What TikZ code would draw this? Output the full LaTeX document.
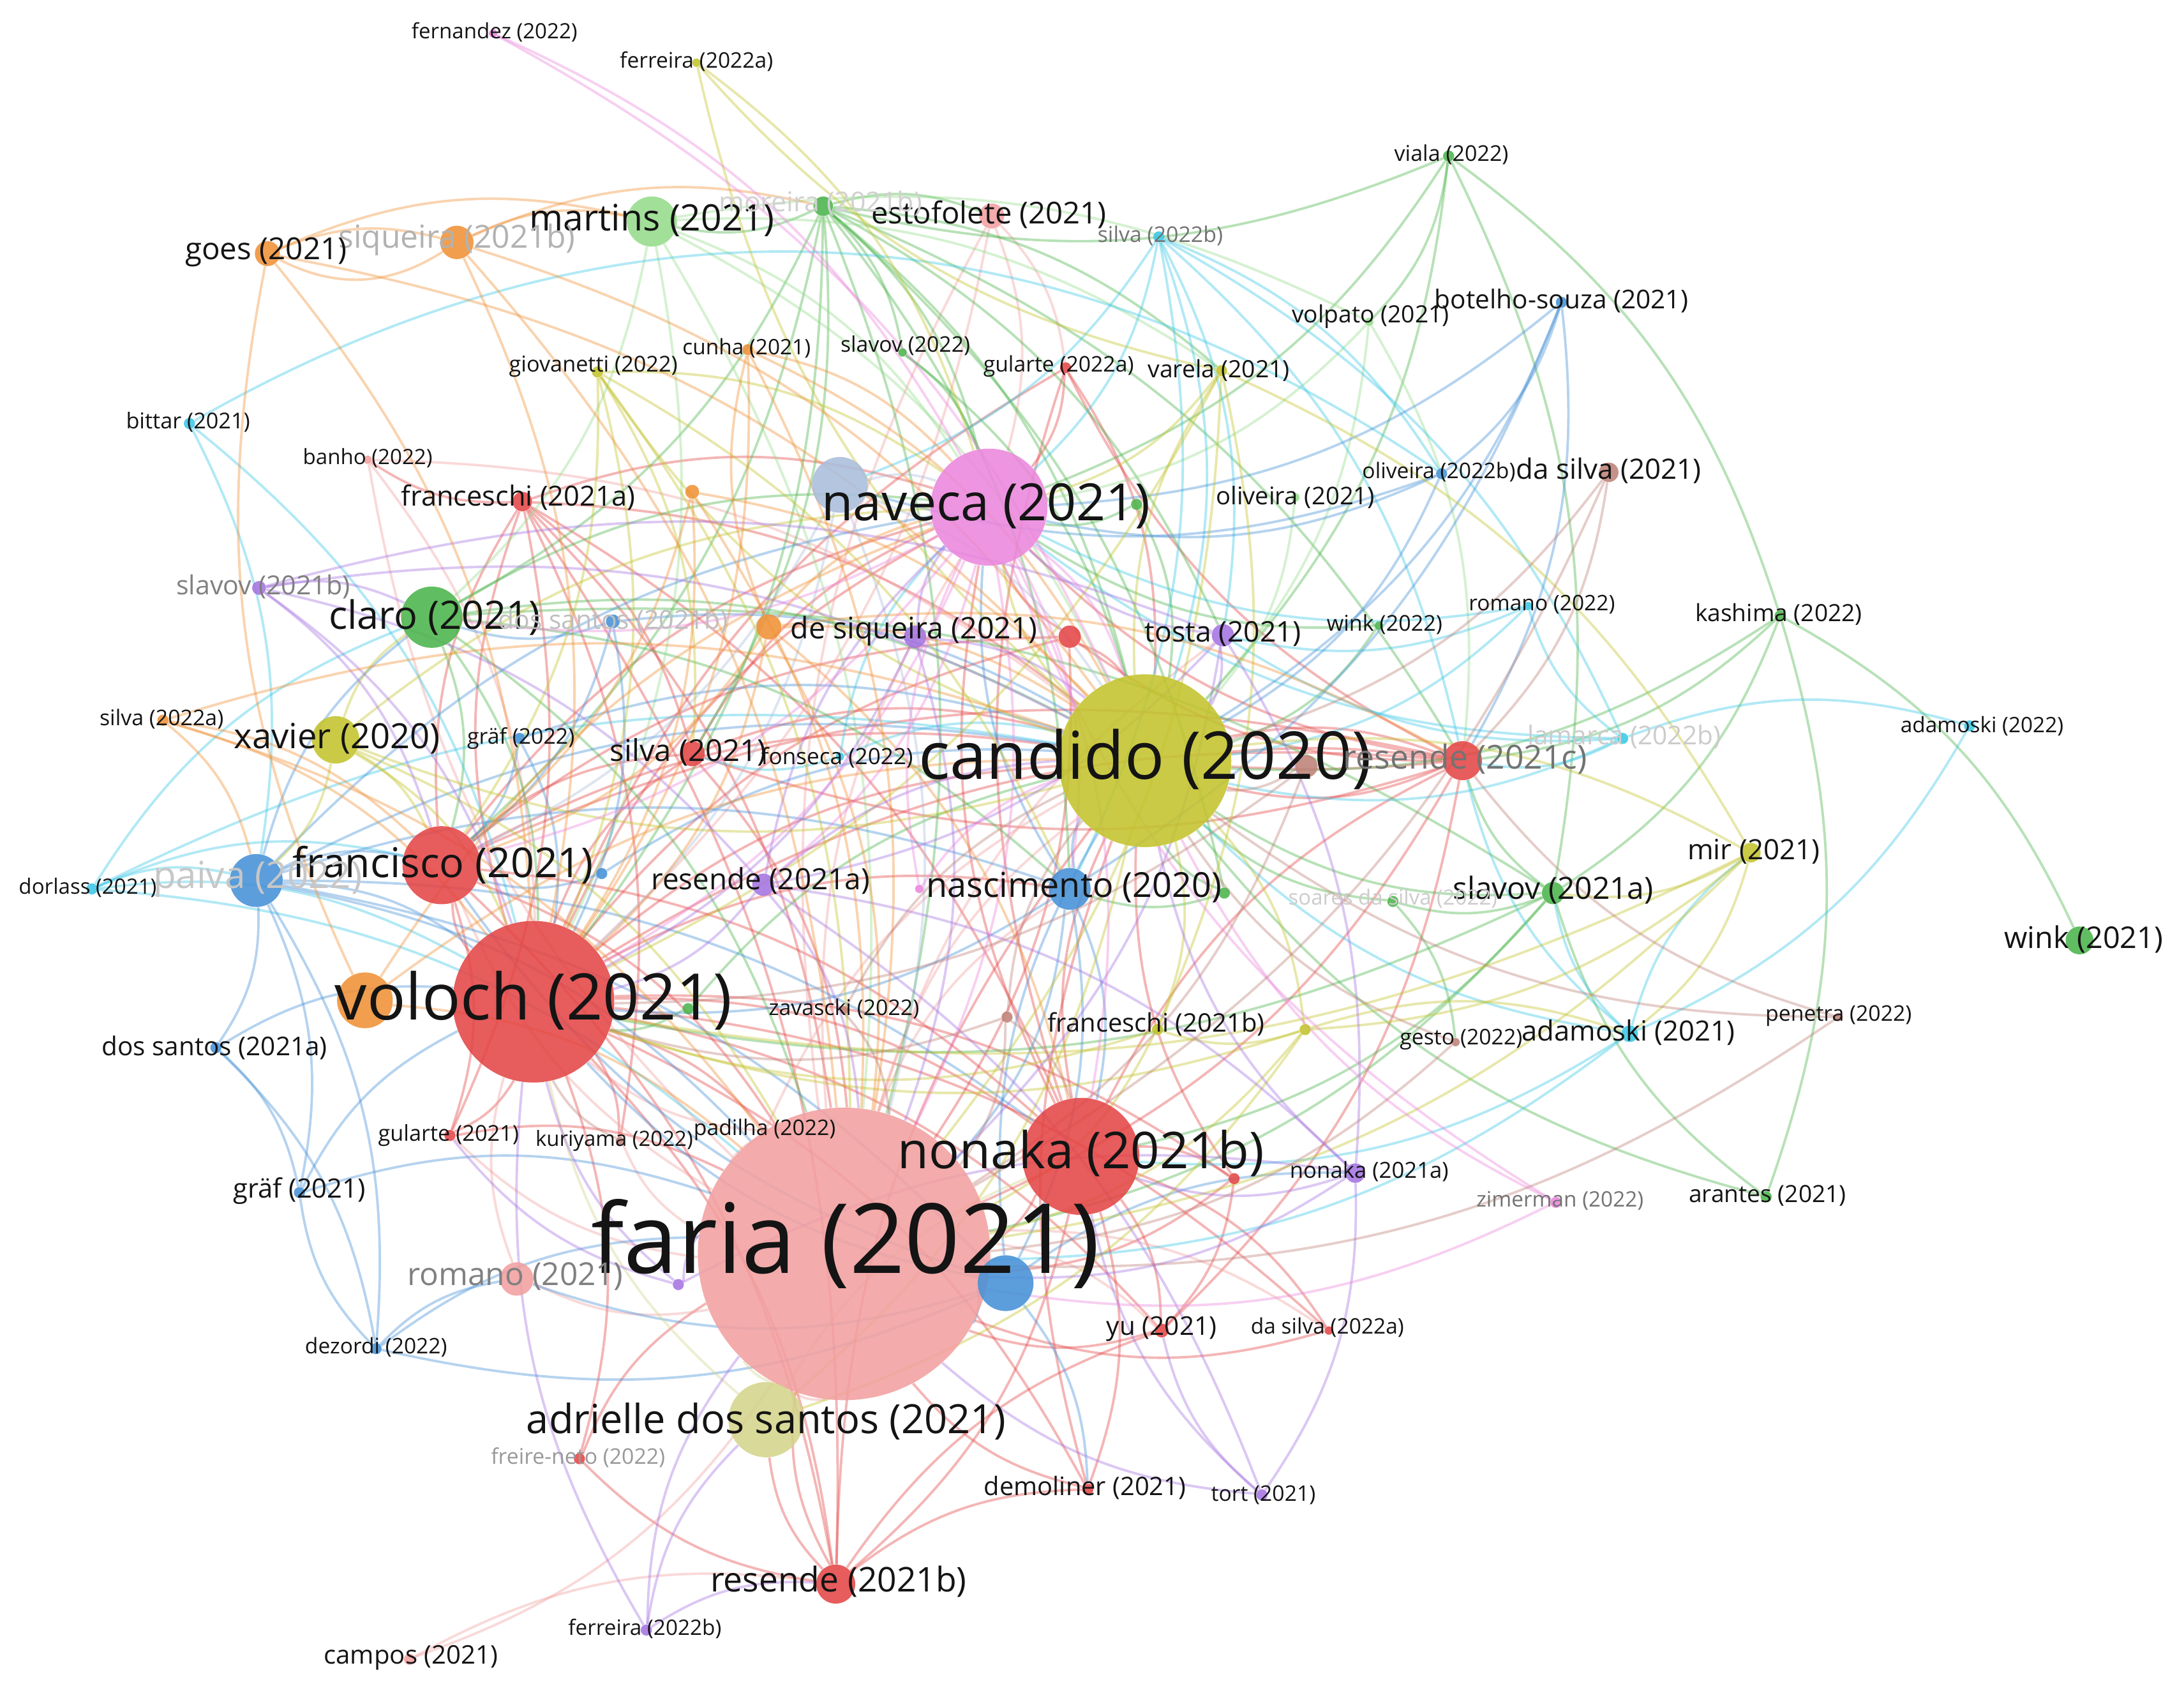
\documentclass[tikz,border=0pt]{standalone}
\usepackage{fontspec}
\setmainfont{Open Sans}
\usepackage{graphicx}
\newlength\pxu
\setlength\pxu{0.03cm}
\pgfdeclarelayer{edges}
\pgfsetlayers{edges,main}
\definecolor{cR}{RGB}{228,70,70}
\definecolor{cLR}{RGB}{242,160,160}
\definecolor{cG}{RGB}{76,180,76}
\definecolor{cLG}{RGB}{150,220,140}
\definecolor{cB}{RGB}{70,145,215}
\definecolor{cSB}{RGB}{170,190,220}
\definecolor{cY}{RGB}{195,195,45}
\definecolor{cPY}{RGB}{212,212,140}
\definecolor{cP}{RGB}{165,115,225}
\definecolor{cC}{RGB}{60,200,230}
\definecolor{cO}{RGB}{240,145,55}
\definecolor{cPk}{RGB}{235,135,220}
\definecolor{cBr}{RGB}{190,130,120}
\definecolor{txt}{RGB}{20,20,20}
\tikzset{
  bub/.style={circle,inner sep=0pt,draw=none,fill opacity=0.88},
  lab/.style={inner sep=0pt,text=txt},
  ed/.style={line width=1.5pt,draw opacity=0.4},
  bd/.style={bend left=18},
}
\newcommand\nd[5]{\node[bub,minimum size=#4*0.06cm,fill=#5] (#1) at (#2,#3) {};}
\newcommand\lb[6]{\node[lab,text=#6] (#1-l) at (#2,#3) {\resizebox{#4\pxu}{!}{#5}};}
\begin{document}
\begin{tikzpicture}[x=0.03cm,y=-0.03cm]
\useasboundingbox (0,0) rectangle (1568,1220);
% nodes
\nd{faria}{606}{900}{105}{cLR}
\nd{candido}{822}{546}{62}{cY}
\nd{voloch}{383}{719}{58}{cR}
\nd{naveca}{710}{364}{42}{cPk}
\nd{nonakab}{776}{830}{42}{cR}
\nd{francisco}{317}{621}{28}{cR}
\nd{claro}{310}{443}{22}{cG}
\nd{xavier}{241}{531}{17}{cY}
\nd{adrielle}{550}{1019}{27}{cPY}
\nd{martins}{468}{159}{18}{cLG}
\nd{steel}{603}{348}{20}{cSB}
\nd{resendec}{1050}{546}{14}{cR}
\nd{nascimento}{768}{638}{15}{cB}
\nd{bluefar}{722}{921}{20}{cB}
\nd{paiva}{184}{632}{19}{cB}
\nd{orangevol}{262}{718}{20}{cO}
\nd{romanoa}{371}{918}{12}{cLR}
\nd{resendeb}{600}{1137}{14}{cR}
\nd{resendea}{548}{635}{8}{cP}
\nd{desiqueira}{657}{457}{8}{cP}
\nd{orangeds}{552}{450}{9}{cO}
\nd{tosta}{878}{456}{8}{cP}
\nd{redtos}{768}{457}{8}{cR}
\nd{silvaa}{497}{541}{9}{cR}
\nd{fonseca}{603}{543}{3}{cC}
\nd{grafb}{373}{530}{4}{cB}
\nd{dossantosb}{440}{446}{5}{cB}
\nd{slavovb}{186}{422}{5}{cP}
\nd{silvada}{117}{517}{4}{cO}
\nd{dorlass}{66}{638}{4}{cC}
\nd{dossantosa}{155}{752}{4}{cB}
\nd{gulartea}{323}{815}{4}{cR}
\nd{kuriyama}{445}{819}{3}{cBr}
\nd{padilha}{549}{812}{3}{cLR}
\nd{grafa}{215}{856}{4}{cB}
\nd{dezordi}{270}{968}{4}{cB}
\nd{freireneto}{416}{1047}{4}{cR}
\nd{ferreirab}{464}{1170}{4}{cP}
\nd{campos}{294}{1191}{4}{cLR}
\nd{demoliner}{781}{1069}{4}{cR}
\nd{tort}{906}{1073}{4}{cP}
\nd{yu}{834}{955}{5}{cR}
\nd{dasilvab}{954}{955}{3}{cR}
\nd{nonakaa}{973}{842}{7}{cP}
\nd{rednon}{886}{846}{4}{cR}
\nd{zimerman}{1117}{863}{4}{cPk}
\nd{arantes}{1268}{859}{4}{cG}
\nd{winka}{1493}{675}{10}{cG}
\nd{penetra}{1320}{730}{3}{cBr}
\nd{adamoskia}{1170}{742}{6}{cC}
\nd{gesto}{1045}{748}{3}{cBr}
\nd{franceschib}{831}{739}{4}{cY}
\nd{yellowr}{937}{739}{4}{cY}
\nd{zavascki}{606}{725}{3}{cBr}
\nd{brownz}{723}{730}{4}{cBr}
\nd{slavova}{1115}{641}{8}{cG}
\nd{mir}{1257}{612}{7}{cY}
\nd{soares}{1000}{647}{4}{cG}
\nd{greenn}{879}{641}{4}{cG}
\nd{lamarca}{1165}{530}{4}{cC}
\nd{adamoskib}{1414}{521}{4}{cC}
\nd{kashima}{1278}{442}{4}{cG}
\nd{romanob}{1097}{435}{3}{cC}
\nd{winkb}{990}{449}{3}{cG}
\nd{dasilvaa}{1155}{339}{7}{cBr}
\nd{oliveirab}{1035}{340}{4}{cB}
\nd{oliveiraa}{930}{357}{3}{cLG}
\nd{greennav}{816}{362}{4}{cG}
\nd{botelho}{1121}{217}{4}{cB}
\nd{volpato}{983}{231}{3}{cLG}
\nd{viala}{1040}{112}{4}{cG}
\nd{silvadb}{832}{170}{4}{cC}
\nd{varela}{877}{266}{4}{cY}
\nd{gulartedb}{765}{264}{4}{cR}
\nd{slavovc}{648}{253}{3}{cG}
\nd{cunha}{537}{251}{4}{cO}
\nd{giovanetti}{429}{267}{4}{cY}
\nd{estofolete}{712}{155}{9}{cLR}
\nd{moreira}{591}{148}{7}{cG}
\nd{siqueira}{328}{174}{12}{cO}
\nd{goes}{192}{182}{9}{cO}
\nd{fernandez}{354}{24}{3}{cPk}
\nd{ferreiraa}{500}{45}{3}{cY}
\nd{bittar}{136}{304}{4}{cC}
\nd{banho}{264}{330}{3}{cLR}
\nd{franceschia}{375}{360}{7}{cR}
\nd{orangefr}{497}{353}{5}{cO}
\nd{brownc}{938}{550}{8}{cBr}
\nd{purplef}{487}{922}{4}{cP}
\nd{bluefr}{432}{627}{4}{cB}
\nd{greenvol}{494}{724}{4}{cG}
\nd{pinknas}{660}{638}{3}{cPk}
% labels
\lb{faria}{607}{893}{365}{faria (2021)}{txt}
\lb{candido}{822}{545}{325}{candido (2020)}{txt}
\lb{voloch}{383}{718}{285}{voloch (2021)}{txt}
\lb{naveca}{708}{363}{236}{naveca (2021)}{txt}
\lb{nonakab}{776}{828}{263}{nonaka (2021b)}{txt}
\lb{francisco}{318}{621}{216}{francisco (2021)}{txt}
\lb{claro}{312}{443}{152}{claro (2021)}{txt}
\lb{xavier}{242}{530}{148}{xavier (2020)}{txt}
\lb{adrielle}{550}{1020}{344}{adrielle dos santos (2021)}{txt}
\lb{martins}{468}{158}{176}{martins (2021)}{txt}
\lb{resendec}{1052}{545}{175}{resende (2021c)}{black!55}
\lb{nascimento}{771}{637}{212}{nascimento (2020)}{txt}
\lb{paiva}{185}{631}{150}{paiva (2022)}{black!22}
\lb{romanoa}{370}{916}{155}{romano (2021)}{black!50}
\lb{resendeb}{602}{1135}{184}{resende (2021b)}{txt}
\lb{resendea}{546}{632}{157}{resende (2021a)}{txt}
\lb{desiqueira}{656}{453}{177}{de siqueira (2021)}{txt}
\lb{tosta}{878}{455}{112}{tosta (2021)}{txt}
\lb{silvaa}{494}{540}{112}{silva (2021)}{txt}
\lb{fonseca}{601}{544}{109}{fonseca (2022)}{txt}
\lb{grafb}{374}{530}{77}{gräf (2022)}{txt}
\lb{dossantosb}{440}{446}{165}{dos santos (2021b)}{black!25}
\lb{slavovb}{189}{421}{125}{slavov (2021b)}{black!50}
\lb{silvada}{116}{516}{89}{silva (2022a)}{txt}
\lb{dorlass}{63}{637}{99}{dorlass (2021)}{txt}
\lb{dossantosa}{154}{752}{162}{dos santos (2021a)}{txt}
\lb{gulartea}{322}{815}{101}{gularte (2021)}{txt}
\lb{kuriyama}{441}{819}{113}{kuriyama (2022)}{txt}
\lb{padilha}{549}{811}{102}{padilha (2022)}{txt}
\lb{grafa}{215}{855}{95}{gräf (2021)}{txt}
\lb{dezordi}{270}{967}{102}{dezordi (2022)}{txt}
\lb{freireneto}{415}{1046}{125}{freire-neto (2022)}{black!40}
\lb{ferreirab}{463}{1169}{110}{ferreira (2022b)}{txt}
\lb{campos}{295}{1190}{125}{campos (2021)}{txt}
\lb{demoliner}{779}{1068}{145}{demoliner (2021)}{txt}
\lb{tort}{907}{1073}{75}{tort (2021)}{txt}
\lb{yu}{834}{954}{79}{yu (2021)}{txt}
\lb{dasilvab}{953}{953}{110}{da silva (2022a)}{txt}
\lb{nonakaa}{983}{841}{114}{nonaka (2021a)}{txt}
\lb{zimerman}{1120}{862}{120}{zimerman (2022)}{black!55}
\lb{arantes}{1269}{858}{113}{arantes (2021)}{txt}
\lb{winka}{1496}{674}{114}{wink (2021)}{txt}
\lb{penetra}{1320}{729}{105}{penetra (2022)}{txt}
\lb{adamoskia}{1169}{741}{153}{adamoski (2021)}{txt}
\lb{gesto}{1049}{746}{88}{gesto (2022)}{txt}
\lb{franceschib}{830}{735}{156}{franceschi (2021b)}{txt}
\lb{zavascki}{606}{724}{108}{zavascki (2022)}{txt}
\lb{slavova}{1115}{639}{144}{slavov (2021a)}{txt}
\lb{mir}{1259}{611}{95}{mir (2021)}{txt}
\lb{soares}{1000}{645}{150}{soares da silva (2022)}{black!20}
\lb{lamarca}{1166}{529}{139}{lamarca (2022b)}{black!20}
\lb{adamoskib}{1423}{521}{117}{adamoski (2022)}{txt}
\lb{kashima}{1277}{441}{120}{kashima (2022)}{txt}
\lb{romanob}{1107}{434}{105}{romano (2022)}{txt}
\lb{winkb}{994}{448}{83}{wink (2022)}{txt}
\lb{dasilvaa}{1155}{338}{133}{da silva (2021)}{txt}
\lb{oliveirab}{1033}{339}{110}{oliveira (2022b)}{txt}
\lb{oliveiraa}{930}{357}{114}{oliveira (2021)}{txt}
\lb{botelho}{1121}{216}{182}{botelho-souza (2021)}{txt}
\lb{volpato}{984}{227}{113}{volpato (2021)}{txt}
\lb{viala}{1042}{111}{82}{viala (2022)}{txt}
\lb{silvadb}{833}{169}{90}{silva (2022b)}{black!55}
\lb{varela}{875}{266}{102}{varela (2021)}{txt}
\lb{gulartedb}{760}{263}{108}{gularte (2022a)}{txt}
\lb{slavovc}{650}{248}{93}{slavov (2022)}{txt}
\lb{cunha}{536}{250}{92}{cunha (2021)}{txt}
\lb{giovanetti}{426}{263}{121}{giovanetti (2022)}{txt}
\lb{estofolete}{710}{154}{169}{estofolete (2021)}{txt}
\lb{moreira}{589}{146}{146}{moreira (2021b)}{black!18}
\lb{siqueira}{328}{172}{170}{siqueira (2021b)}{black!30}
\lb{goes}{191}{181}{116}{goes (2021)}{txt}
\lb{fernandez}{355}{23}{119}{fernandez (2022)}{txt}
\lb{ferreiraa}{500}{44}{110}{ferreira (2022a)}{txt}
\lb{bittar}{135}{303}{89}{bittar (2021)}{txt}
\lb{banho}{264}{329}{93}{banho (2022)}{txt}
\lb{franceschia}{372}{357}{168}{franceschi (2021a)}{txt}
% edges
\begin{pgfonlayer}{edges}
\fill[white] (0,0) rectangle (1568,1220);
\foreach \a/\b in {voloch/faria,voloch/candido,voloch/nonakab,voloch/francisco,voloch/naveca,voloch/resendeb,voloch/resendec,voloch/silvaa,voloch/franceschia,voloch/nascimento,voloch/gulartea,voloch/kuriyama,voloch/freireneto,voloch/demoliner,voloch/yu,voloch/redtos,voloch/rednon,voloch/dasilvab,voloch/gulartedb,francisco/faria,francisco/candido,francisco/naveca,francisco/nonakab,francisco/franceschia,francisco/resendec,francisco/silvaa,francisco/resendeb,francisco/redtos,francisco/gulartea,nonakab/faria,nonakab/candido,nonakab/resendeb,nonakab/demoliner,nonakab/yu,nonakab/dasilvab,nonakab/resendec,nonakab/rednon,nonakab/naveca,nonakab/gulartedb,resendec/candido,resendec/naveca,resendec/faria,resendec/silvaa,resendec/gulartedb,resendec/redtos,resendec/yu,franceschia/faria,franceschia/candido,franceschia/silvaa,franceschia/kuriyama,franceschia/resendeb,franceschia/banho,franceschia/gulartea,franceschia/nonakab,franceschia/naveca,resendeb/faria,resendeb/adrielle,resendeb/demoliner,resendeb/freireneto,resendeb/yu,resendeb/candido,redtos/candido,redtos/faria,redtos/naveca,gulartedb/candido,gulartedb/naveca,yu/faria,demoliner/faria,rednon/faria,rednon/candido,dasilvab/faria,silvaa/candido,silvaa/faria,silvaa/naveca,freireneto/faria,gulartea/faria,rednon/yu,demoliner/candido}
  {\draw[ed,cR] (\a) to[bd] (\b);}
\draw[ed,cR] (resendec) to[bend left=4] (candido);
\draw[ed,cR] (resendec) to[bend right=6] (candido);
\draw[ed,cR] (resendec) to[bend right=16] (candido);
\foreach \a/\b in {faria/naveca,faria/candido,faria/romanoa,faria/adrielle,faria/campos,faria/padilha,faria/banho,faria/nascimento,faria/estofolete,faria/tosta,faria/kuriyama,faria/gulartea,estofolete/naveca,estofolete/voloch,estofolete/gulartedb,romanoa/voloch,padilha/voloch,campos/resendeb,banho/candido,banho/voloch,padilha/candido,faria/yu,faria/dasilvab,faria/francisco}
  {\draw[ed,cLR] (\a) to[bd] (\b);}
\foreach \a/\b in {moreira/martins,moreira/claro,moreira/naveca,moreira/candido,moreira/voloch,moreira/faria,moreira/francisco,moreira/slavovc,moreira/nascimento,moreira/varela,moreira/tosta,moreira/greenn,moreira/silvaa,moreira/estofolete,moreira/resendec,claro/candido,claro/naveca,claro/voloch,claro/faria,claro/francisco,claro/nascimento,claro/slavova,viala/kashima,viala/volpato,viala/slavova,viala/candido,viala/moreira,viala/naveca,kashima/winka,kashima/arantes,kashima/slavova,kashima/resendec,kashima/candido,slavova/candido,slavova/nonakab,slavova/faria,slavova/resendec,slavova/voloch,slavova/soares,arantes/slavova,arantes/candido,soares/gesto,soares/candido,greenn/candido,greenn/nascimento,slavovc/naveca,slavovc/candido,winkb/candido,winkb/naveca,greenvol/voloch,greenvol/candido,greennav/naveca,greennav/candido}
  {\draw[ed,cG] (\a) to[bd] (\b);}
\foreach \a/\b in {martins/candido,martins/naveca,martins/faria,martins/voloch,martins/volpato,martins/varela,martins/claro,volpato/candido,volpato/naveca,oliveiraa/candido,volpato/resendec}
  {\draw[ed,cLG] (\a) to[bd] (\b);}
\foreach \a/\b in {silvadb/naveca,silvadb/candido,silvadb/nascimento,silvadb/tosta,silvadb/oliveirab,silvadb/resendec,silvadb/lamarca,silvadb/steel,lamarca/romanob,lamarca/adamoskib,lamarca/resendec,lamarca/candido,lamarca/tosta,lamarca/naveca,adamoskib/adamoskia,adamoskia/slavova,adamoskia/faria,adamoskia/candido,adamoskia/resendec,adamoskia/nonakab,adamoskia/mir,bittar/voloch,bittar/paiva,dorlass/paiva,dorlass/francisco,dorlass/voloch,dorlass/candido,dorlass/faria,dorlass/claro,fonseca/candido,fonseca/silvaa,fonseca/naveca,romanob/candido,romanob/tosta,romanob/naveca}
  {\draw[ed,cC] (\a) to[bd] (\b);}
\draw[ed,cC] (bittar) to[bend left=32] (oliveirab);
\foreach \a/\b in {paiva/francisco,paiva/voloch,paiva/candido,paiva/faria,paiva/nascimento,paiva/dossantosa,paiva/dezordi,paiva/grafa,paiva/nonakab,paiva/bluefar,paiva/claro,paiva/naveca,nascimento/faria,nascimento/candido,nascimento/naveca,nascimento/voloch,nascimento/bluefar,nascimento/nonakab,bluefar/voloch,bluefar/faria,bluefar/demoliner,bluefar/candido,bluefar/francisco,bluefar/dezordi,bluefar/romanoa,bluefar/nonakaa,botelho/oliveirab,botelho/naveca,botelho/candido,botelho/resendec,botelho/nascimento,oliveirab/naveca,oliveirab/candido,oliveirab/steel,dossantosa/dezordi,dossantosa/voloch,dossantosa/grafa,dezordi/romanoa,dezordi/grafa,dezordi/faria,grafb/candido,grafb/voloch,grafb/francisco,dossantosb/candido,dossantosb/claro,dossantosb/francisco,dossantosb/voloch,bluefr/candido,bluefr/francisco,grafa/voloch,grafa/faria}
  {\draw[ed,cB] (\a) to[bd] (\b);}
\foreach \a/\b in {steel/candido,steel/faria,steel/voloch,steel/naveca,steel/francisco}
  {\draw[ed,cSB] (\a) to[bd] (\b);}
\foreach \a/\b in {candido/xavier,candido/naveca,candido/mir,candido/franceschib,candido/varela,candido/giovanetti,candido/adrielle,candido/yellowr,candido/ferreiraa,xavier/claro,xavier/voloch,xavier/francisco,xavier/paiva,xavier/naveca,xavier/faria,varela/naveca,varela/ferreiraa,varela/mir,varela/franceschib,varela/faria,varela/voloch,mir/yellowr,mir/slavova,mir/adamoskia,mir/voloch,mir/faria,giovanetti/naveca,giovanetti/voloch,giovanetti/faria,giovanetti/francisco,giovanetti/silvaa,giovanetti/nascimento,ferreiraa/naveca,yellowr/franceschib,yellowr/adrielle,yellowr/voloch,yellowr/faria,yellowr/adamoskia,franceschib/faria,franceschib/voloch}
  {\draw[ed,cY] (\a) to[bd] (\b);}
\foreach \a/\b in {adrielle/faria,adrielle/voloch,adrielle/nonakab}
  {\draw[ed,cPY] (\a) to[bd] (\b);}
\foreach \a/\b in {slavovb/claro,slavovb/francisco,slavovb/voloch,slavovb/candido,slavovb/resendea,slavovb/tosta,tosta/naveca,tosta/candido,tosta/faria,tosta/resendea,tosta/nonakaa,desiqueira/naveca,desiqueira/candido,desiqueira/faria,desiqueira/voloch,resendea/candido,resendea/faria,resendea/voloch,resendea/nonakaa,resendea/tort,resendea/naveca,nonakaa/faria,nonakaa/nonakab,nonakaa/tort,nonakaa/candido,tort/faria,tort/yu,tort/nonakab,ferreirab/faria,ferreirab/adrielle,ferreirab/resendeb,ferreirab/voloch,purplef/voloch,purplef/faria,purplef/nonakaa,purplef/gulartea}
  {\draw[ed,cP] (\a) to[bd] (\b);}
\foreach \a/\b in {goes/siqueira,goes/martins,goes/candido,goes/voloch,siqueira/martins,siqueira/candido,siqueira/voloch,siqueira/faria,siqueira/moreira,silvada/voloch,silvada/faria,silvada/candido,silvada/francisco,silvada/paiva,orangeds/naveca,orangeds/candido,orangeds/voloch,orangeds/faria,orangeds/francisco,orangeds/cunha,orangeds/nonakab,orangeds/resendec,cunha/naveca,cunha/candido,cunha/voloch,cunha/faria,orangevol/candido,orangevol/naveca,orangevol/faria,orangevol/goes,orangefr/candido,orangefr/voloch,orangefr/faria,orangefr/francisco}
  {\draw[ed,cO] (\a) to[bd] (\b);}
\draw[ed,cO] (goes) to[bend right=30] (siqueira);
\foreach \a/\b in {naveca/faria,naveca/candido,naveca/voloch,naveca/nonakab,naveca/francisco,naveca/nascimento,naveca/resendea,naveca/claro,fernandez/naveca,zimerman/faria,zimerman/naveca,zimerman/candido,pinknas/naveca,pinknas/candido,fernandez/candido}
  {\draw[ed,cPk] (\a) to[bd] (\b);}
\foreach \a/\b in {dasilvaa/candido,dasilvaa/resendec,dasilvaa/faria,brownz/candido,brownz/faria,brownz/voloch,brownz/nonakab,penetra/resendec,penetra/candido,brownc/candido,brownc/faria,brownc/voloch,kuriyama/voloch,zavascki/faria,zavascki/candido,gesto/candido,gesto/faria,penetra/faria}
  {\draw[ed,cBr] (\a) to[bd] (\b);}
\end{pgfonlayer}
\end{tikzpicture}
\end{document}
